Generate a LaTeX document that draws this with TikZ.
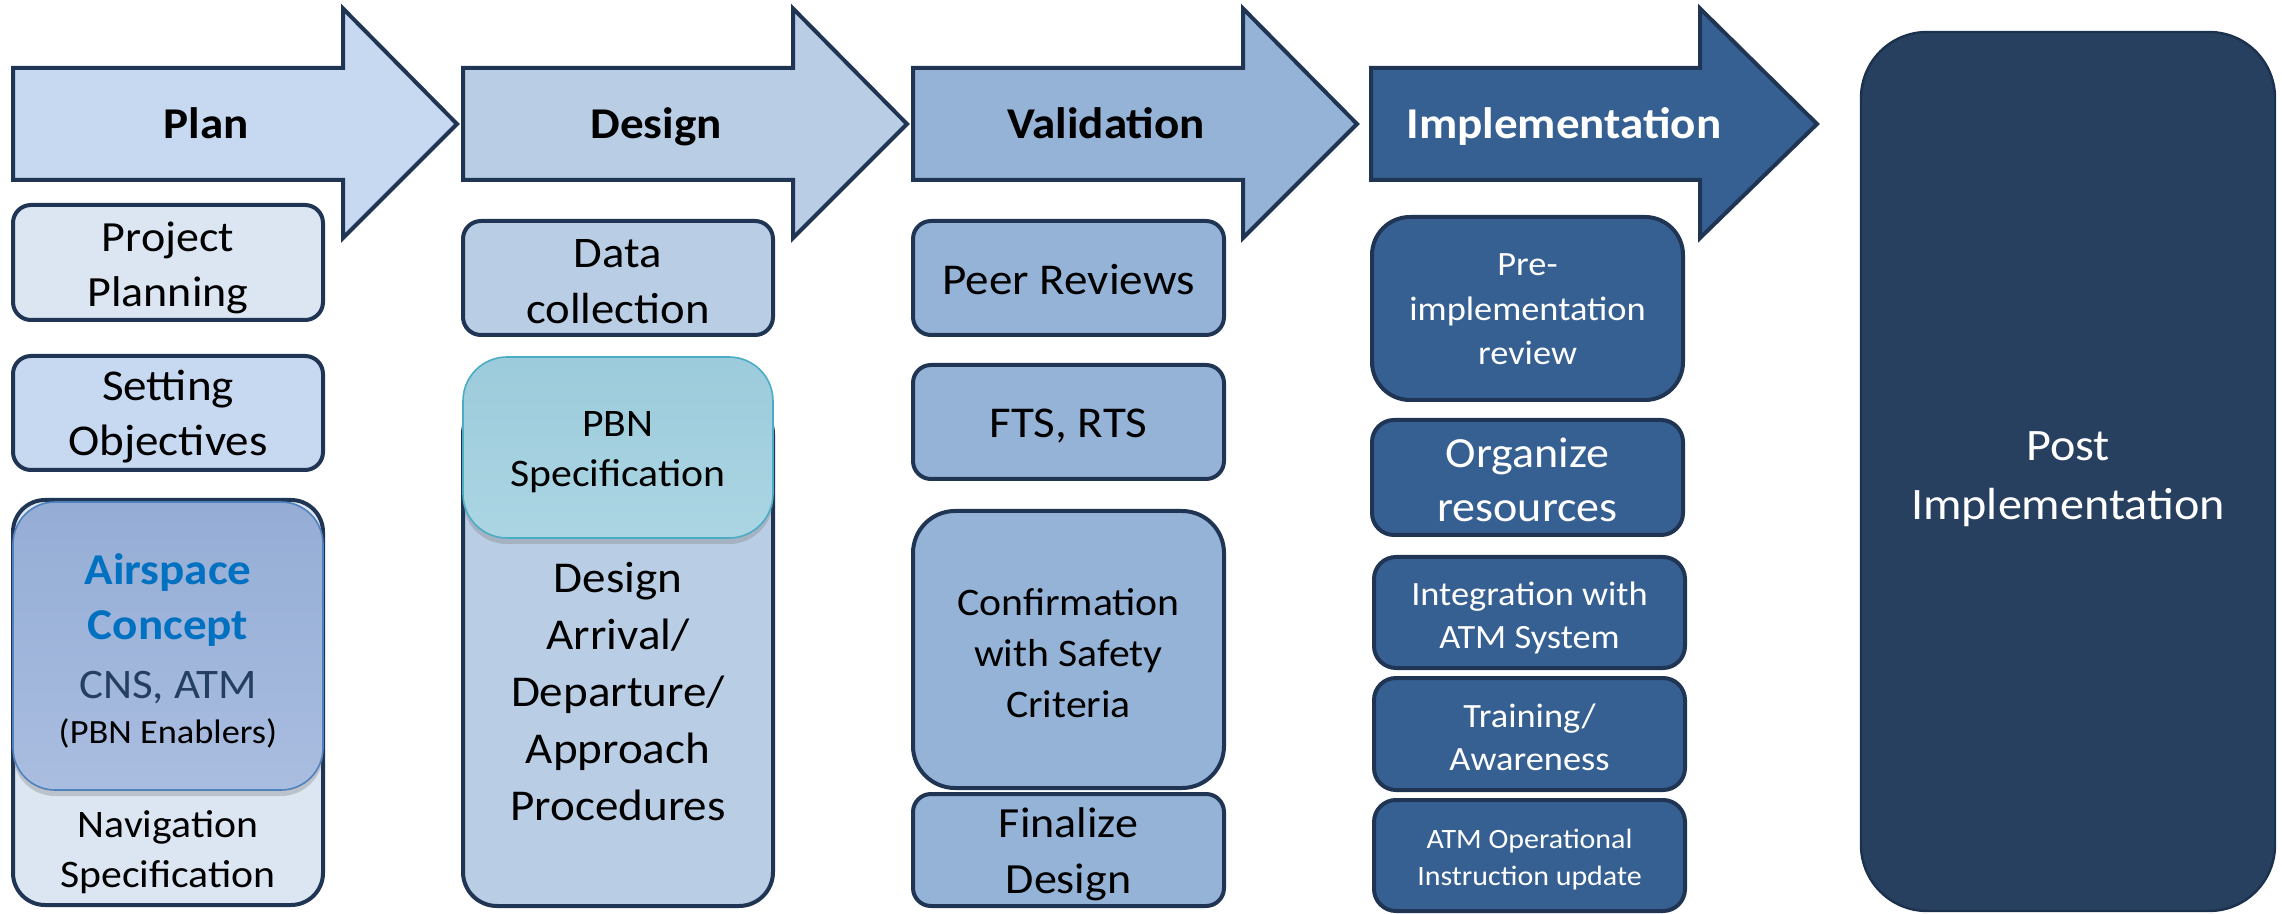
\documentclass[tikz,border=0pt]{standalone}
\usepackage{fontspec}
\setmainfont{Carlito}[FakeStretch=1.07]
\usetikzlibrary{shadows}
\definecolor{bord}{HTML}{1F3553}
\definecolor{planfill}{HTML}{C6D9F1}
\definecolor{lightfill}{HTML}{DCE6F2}
\definecolor{designfill}{HTML}{B9CDE5}
\definecolor{valfill}{HTML}{95B3D7}
\definecolor{implfill}{HTML}{376092}
\definecolor{postfill}{HTML}{27405F}
\definecolor{postbord}{HTML}{1B314D}
\definecolor{airtop}{HTML}{95ADD5}
\definecolor{airbot}{HTML}{A9BDE0}
\definecolor{airbord}{HTML}{4F81BD}
\definecolor{pbntop}{HTML}{9CCBDB}
\definecolor{pbnbot}{HTML}{ABD5E3}
\definecolor{pbnbord}{HTML}{4BACC6}
\definecolor{conceptblue}{HTML}{0070C0}
\definecolor{cnsblue}{HTML}{243F60}
\newcommand\fsz[2]{\fontsize{#1pt}{#2pt}\selectfont}
\newcommand\cardbox[6]{%
  \node[#1, minimum width={(#5-#3)*0.5pt}, minimum height={(#6-#4)*0.5pt}] (#2) at ({(#3+#5)/2},{(#4+#6)/2}) {};}
\newcommand\phasearrow[4]{%
  \draw[stagearrow, fill=#1] (#2,68) -- (#3,68) -- (#3,8.5) -- (#4,124) -- (#3,238) -- (#3,180) -- (#2,180) -- cycle;}
\tikzset{
  stagearrow/.style={draw=bord, line width=2pt, line join=miter},
  stagetitle/.style={anchor=base, font=\fsz{22}{26}\bfseries, inner sep=0pt},
  card/.style={draw=bord, line width=2pt, rectangle, inner sep=0pt},
  ovbox/.style={rectangle, inner sep=0pt, line width=0.8pt,
    drop shadow={shadow xshift=0pt, shadow yshift=-3pt, opacity=0.35}},
  txt/.style={anchor=base, align=center, inner sep=0pt},
}
\begin{document}
\begin{tikzpicture}[x=0.5pt, y=-0.5pt]
\useasboundingbox (0,0) rectangle (2282,914);
% stage arrows
\phasearrow{planfill}{13}{343}{457}
\phasearrow{designfill}{463}{793}{907}
\phasearrow{valfill}{913}{1243}{1357}
\phasearrow{implfill}{1371}{1700}{1817}
\node[stagetitle] (hplan) at (206,139) {Plan};
\node[stagetitle] (hdesign) at (656,139) {Design};
\node[stagetitle] (hval) at (1106,139) {Validation};
\node[stagetitle, text=white] (himpl) at (1564,139) {Implementation};
% Plan column
\cardbox{card, fill=lightfill, rounded corners=9pt}{pp}{13}{205}{323}{320}
\cardbox{card, fill=planfill, rounded corners=9pt}{so}{13}{356}{323}{470}
\cardbox{card, fill=lightfill, rounded corners=16pt}{nav}{13}{500}{323}{905}
\cardbox{ovbox, draw=airbord, top color=airtop, bottom color=airbot, rounded corners=21pt}{air}{13}{502}{323}{790}
\node[txt, font=\fsz{21.5}{27.8}] (tpp) at (168,307) {Project\\Planning};
\node[txt, font=\fsz{22}{27.5}] (tso) at (168,455.5) {Setting\\Objectives};
\node[txt, font=\fsz{19.5}{25}] (tnav) at (168,887) {Navigation\\Specification};
\node[txt, font=\fsz{22}{28}] (tair) at (168,743)
  {{\bfseries\color{conceptblue}Airspace}\\[-0.25pt]{\bfseries\color{conceptblue}Concept}\\[1.25pt]{\color{cnsblue}\fsz{21}{27}CNS, ATM}\\[-5.5pt]{\fsz{17}{21}(PBN Enablers)}};
% Design column
\cardbox{card, fill=designfill, rounded corners=9pt}{dc}{463}{221}{773}{335}
\cardbox{card, fill=designfill, rounded corners=17pt}{des}{463}{400}{773}{906}
\cardbox{ovbox, draw=pbnbord, top color=pbntop, bottom color=pbnbot, rounded corners=22pt}{pbn}{463}{357}{773}{538}
\node[txt, font=\fsz{21.8}{28}] (tdc) at (618,324) {Data\\collection};
\node[txt, font=\fsz{19.5}{25}] (tpbn) at (618,487) {PBN\\Specification};
\node[txt, font=\fsz{22}{28.5}] (tdes) at (618,820.5) {Design\\Arrival/\\Departure/\\Approach\\Procedures};
% Validation column
\cardbox{card, fill=valfill, rounded corners=9pt}{pr}{913}{221}{1224}{335}
\cardbox{card, fill=valfill, rounded corners=9pt}{fts}{913}{365}{1224}{479}
\cardbox{card, fill=valfill, rounded corners=21pt}{conf}{913}{511}{1224}{788}
\cardbox{card, fill=valfill, rounded corners=9pt}{fin}{913}{794}{1224}{906}
\node[txt, font=\fsz{22}{28}] (tpr) at (1068.5,295) {Peer Reviews};
\node[txt, font=\fsz{22}{28}] (tfts) at (1068.5,438) {FTS, RTS};
\node[txt, font=\fsz{19.5}{25.5}] (tconf) at (1068.5,717) {Confirmation\\with Safety\\Criteria};
\node[txt, font=\fsz{21.5}{27.8}] (tfin) at (1068.5,893.5) {Finalize\\Design};
% Implementation column
\cardbox{card, fill=implfill, rounded corners=19pt}{pre}{1372}{217}{1683}{400}
\cardbox{card, fill=implfill, rounded corners=11pt}{org}{1372}{420}{1683}{535}
\cardbox{card, fill=implfill, rounded corners=11pt}{int}{1374}{557}{1685}{668}
\cardbox{card, fill=implfill, rounded corners=11pt}{trn}{1374}{678}{1685}{790}
\cardbox{card, fill=implfill, rounded corners=11pt}{atm}{1374}{800}{1685}{911}
\node[txt, text=white, font=\fsz{17}{22.25}] (tpre) at (1527.5,365) {Pre-\\implementation\\review};
\node[txt, text=white, font=\fsz{21.5}{27}] (torg) at (1527.5,522) {Organize\\resources};
\node[txt, text=white, font=\fsz{17}{21.5}] (tint) at (1529.5,648) {Integration with\\ATM System};
\node[txt, text=white, font=\fsz{17}{21.5}] (ttrn) at (1529.5,770) {Training/\\Awareness};
\node[txt, text=white, font=\fsz{14}{18.5}] (tatm) at (1529.5,885) {ATM Operational\\Instruction update};
% Post implementation
\cardbox{rectangle, inner sep=0pt, draw=postbord, line width=1.2pt, fill=postfill, rounded corners=33pt}{post}{1861}{32}{2275}{911}
\node[txt, text=white, font=\fsz{22.5}{29.5}] (tpost) at (2068,520) {Post\\Implementation};
\end{tikzpicture}
\end{document}
